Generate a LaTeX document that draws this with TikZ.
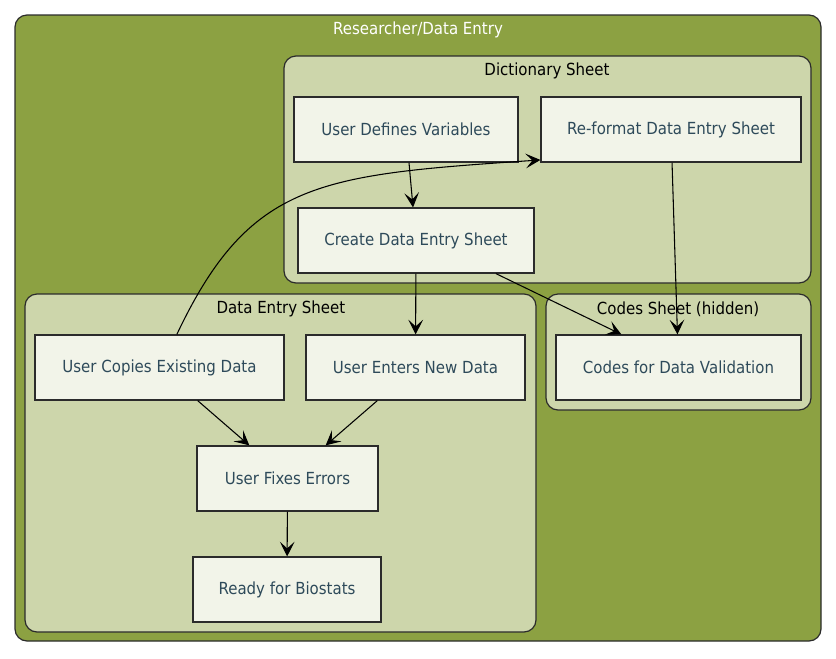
\documentclass[tikz,border=0pt]{standalone}
\usepackage{fontspec}
\setmainfont{DejaVu Sans}[FakeStretch=0.9]
\usetikzlibrary{arrows.meta}

\definecolor{olive}{HTML}{8CA142}
\definecolor{sheet}{HTML}{CDD6AB}
\definecolor{boxfill}{HTML}{F2F4E9}
\definecolor{boxline}{HTML}{2B2B2B}
\definecolor{boxtext}{HTML}{2E4A5A}

\tikzset{
	outer/.style={draw=boxline, fill=olive, line width=0.9pt, rounded corners=9pt},
	sheetbox/.style={draw=boxline, fill=sheet, line width=0.9pt, rounded corners=9pt},
	title/.style={black, font=\fontsize{12.5}{15}\selectfont},
	task/.style={draw=boxline, fill=boxfill, line width=0.9pt, text=boxtext, inner sep=0pt,
		minimum height=48.75pt, font=\fontsize{12.5}{15}\selectfont},
	arrow/.style={-{Stealth[length=11pt, width=11pt, inset=5pt]}, line width=0.8pt, black}
}

\begin{document}
\begin{tikzpicture}[x=0.75pt, y=-0.75pt]
\useasboundingbox (0,0) rectangle (836,658);

% groups
\draw [outer] (15,15) rectangle (821,641);
\draw [sheetbox] (284,56) rectangle (811,283);
\draw [sheetbox] (25,294) rectangle (536,632);
\draw [sheetbox] (546,294) rectangle (811,410);

\node (lblouter) at (418,30) [title, white] {Researcher/Data Entry};
\node (lbldict) at (547,71) [title] {Dictionary Sheet};
\node (lblentry) at (281,309) [title] {Data Entry Sheet};
\node (lblcodes) at (678,309) [title] {Codes Sheet (hidden)};

% tasks
\node (udv) at (406,129.5) [task, minimum width=168pt] {User Defines Variables};
\node (reformat) at (671,129.5) [task, minimum width=195pt] {Re-format Data Entry Sheet};
\node (cdes) at (416,240.5) [task, minimum width=177pt] {Create Data Entry Sheet};
\node (uced) at (159.5,367.5) [task, minimum width=186.75pt] {User Copies Existing Data};
\node (uend) at (415.5,367.5) [task, minimum width=164.25pt] {User Enters New Data};
\node (cdv) at (678.5,367.5) [task, minimum width=183.75pt] {Codes for Data Validation};
\node (ufe) at (287.5,478.5) [task, minimum width=135.75pt] {User Fixes Errors};
\node (rfb) at (287,589.5) [task, minimum width=141pt] {Ready for Biostats};

% flows
\draw [arrow] (udv) -- (cdes);
\draw [arrow] (cdes) -- (uend);
\draw [arrow] ([xshift=-29pt]cdes.south east) -- ([xshift=49.5pt]cdv.north west);
\draw [arrow] (reformat) -- (cdv);
\draw [arrow] (uced) -- (ufe);
\draw [arrow] (uend) -- (ufe);
\draw [arrow] (ufe) -- (rfb);
\draw [arrow] ([xshift=13pt]uced.north) .. controls (250,180) and (320,175) .. ([yshift=2pt]reformat.south west);
\end{tikzpicture}
\end{document}
